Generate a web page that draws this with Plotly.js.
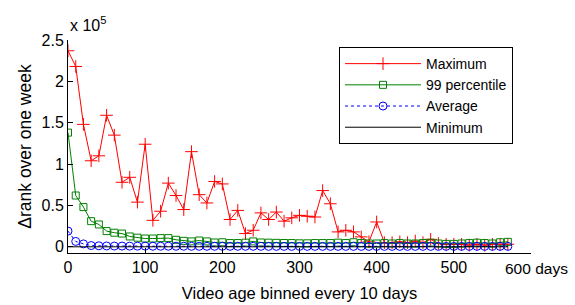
<!DOCTYPE html>
<html><head><meta charset="utf-8">
<script src="https://cdn.plot.ly/plotly-3.0.1.min.js"></script>
<style>html,body{margin:0;padding:0;background:#fff}#chart{width:575px;height:305px}</style>
</head><body><div id="chart"></div>
<script>
// Video age bins (days)
const ageDays = [0,10,20,30,40,50,60,70,80,90,100,110,120,130,140,150,160,170,180,190,200,210,220,230,240,250,260,270,280,290,300,310,320,330,340,350,360,370,380,390,400,410,420,430,440,450,460,470,480,490,500,510,520,530,540,550,560,570];
// Values in units of 1e5
const maximum = [2.37,2.18,1.48,1.04,1.10,1.59,1.35,0.78,0.84,0.54,1.24,0.32,0.43,0.77,0.62,0.45,1.15,0.63,0.53,0.79,0.76,0.33,0.44,0.16,0.20,0.41,0.33,0.42,0.31,0.35,0.38,0.37,0.36,0.68,0.52,0.18,0.20,0.18,0.12,0.06,0.30,0.05,0.05,0.06,0.05,0.07,0.05,0.09,0.04,0.03,0.03,0.03,0.02,0.03,0.02,0.03,0.03,0.03];
const pct99 = [1.38,0.62,0.48,0.31,0.27,0.19,0.17,0.16,0.125,0.11,0.10,0.10,0.105,0.105,0.085,0.072,0.065,0.076,0.065,0.052,0.055,0.045,0.045,0.05,0.065,0.052,0.05,0.048,0.046,0.045,0.042,0.042,0.045,0.045,0.045,0.05,0.045,0.055,0.045,0.04,0.04,0.045,0.04,0.045,0.04,0.04,0.045,0.05,0.04,0.035,0.035,0.04,0.045,0.05,0.045,0.04,0.055,0.06];
const average = [0.19,0.065,0.035,0.015,0.012,0.01,0.009,0.009,0.008,0.008,0.008,0.007,0.007,0.007,0.007,0.007,0.006,0.006,0.006,0.006,0.006,0.006,0.006,0.006,0.006,0.006,0.005,0.005,0.005,0.005,0.005,0.005,0.005,0.005,0.005,0.005,0.005,0.005,0.005,0.005,0.005,0.005,0.005,0.005,0.005,0.005,0.005,0.005,0.005,0.005,0.005,0.005,0.005,0.005,0.005,0.005,0.005,0.005];
const minimum = [0,0,0,0,0,0,0,0,0,0,0,0,0,0,0,0,0,0,0,0,0,0,0,0,0,0,0,0,0,0,0,0,0,0,0,0,0,0,0,0,0,0,0,0,0,0,0,0,0,0,0,0,0,0,0,0,0,0];
const seriesNames = ['Maximum','99 percentile','Average','Minimum'];
const xTickVals = [0,100,200,300,400,500,600];
const xTickText = ['0','100','200','300','400','500',''];
const lastTickLabel = '600 days';
const yTickVals = [0,0.5,1,1.5,2,2.5];
const yTickText = ['0','0.5','1','1.5','2','2.5'];
const SCALE = 1e5;
const sc = a => a.map(v => v*SCALE);

const F = 'Liberation Sans, Arial, Helvetica, sans-serif';
const traces = [
  {x: ageDays, y: sc(maximum), name: seriesNames[0], mode: 'lines+markers',
   line: {color: '#ff0000', width: 1}, marker: {symbol: 'cross-thin', size: 9, line: {color: '#ff0000', width: 1}}},
  {x: ageDays, y: sc(pct99), name: seriesNames[1], mode: 'lines+markers',
   line: {color: '#008000', width: 1}, marker: {symbol: 'square-open', size: 7, color: '#008000', line: {width: 1}}},
  {x: ageDays, y: sc(average), name: seriesNames[2], mode: 'lines+markers',
   line: {color: '#0000ff', width: 1, dash: 'dot'}, marker: {symbol: 'circle-open', size: 8, color: '#0000ff', line: {width: 1}}},
  {x: ageDays, y: sc(minimum), name: seriesNames[3], mode: 'lines',
   line: {color: '#000000', width: 1}}
];

const layout = {
  width: 575, height: 305,
  margin: {l: 68, r: 44, t: 40, b: 52},
  paper_bgcolor: '#fff', plot_bgcolor: '#fff',
  font: {family: F, size: 16, color: '#000'},
  showlegend: true,
  legend: {x: (339-68)/463, y: 0.967, xanchor: 'left', yanchor: 'top',
    bordercolor: '#000', borderwidth: 1, bgcolor: '#fff', itemwidth: 76,
    font: {family: F, size: 14, color: '#000'}, tracegroupgap: 0},
  xaxis: {range: [0, 600], tickvals: xTickVals, ticktext: xTickText,
    ticks: 'inside', ticklen: 5, tickcolor: '#000', showline: true, linecolor: '#000', linewidth: 1,
    showgrid: false, zeroline: false, mirror: false, tickfont: {size: 16},
    title: {text: 'Video age binned every 10 days', font: {size: 16.5}, standoff: 12}},
  yaxis: {range: [-0.075*SCALE, 2.5*SCALE], tickvals: yTickVals.map(v => v*SCALE), ticktext: yTickText,
    ticks: 'inside', ticklen: 5, tickcolor: '#000', showline: true, linecolor: '#000', linewidth: 1,
    showgrid: false, zeroline: false, mirror: false, tickfont: {size: 16},
    title: {text: 'Δrank over one week', font: {size: 17.5}, standoff: 5}},
  annotations: [
    {xref: 'paper', yref: 'paper', x: (570-68)/463, y: (253-268)/213, xanchor: 'right', yanchor: 'middle',
     text: lastTickLabel, showarrow: false, font: {size: 15.5}},
    {xref: 'paper', yref: 'paper', x: 0, y: 1.02, xanchor: 'left', yanchor: 'bottom',
     text: 'x 10<sup>5</sup>', showarrow: false, font: {size: 16}}
  ]
};
Plotly.newPlot('chart', traces, layout, {displayModeBar: false, staticPlot: true});
</script></body></html>
